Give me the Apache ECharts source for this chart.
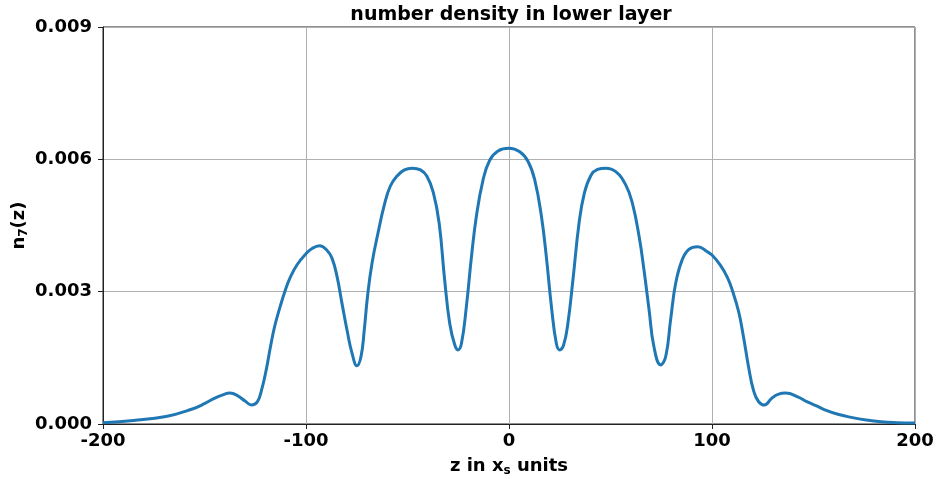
<!DOCTYPE html>
<html>
<head>
<meta charset="utf-8">
<title>number density in lower layer</title>
<script src="https://cdn.jsdelivr.net/npm/echarts@6/dist/echarts.min.js"></script>
<style>
  html, body { margin: 0; padding: 0; background: #fff; }
  #chart { width: 937px; height: 479px; }
</style>
</head>
<body>
<div id="chart"></div>
<script>
// Position along the layer, in x_s units
const zValues = [
  -200, -185, -169, -156, -150, -145.7, -141, -137.4, -134, -130, -126.8, -124, -122,
  -119.5, -117.5, -115.5, -113, -110, -107.7, -104.4, -100, -97, -93.3, -89.7, -87.2,
  -84.7, -82.3, -79.8, -77.3, -74.9, -72.9, -71.3, -69.7, -67.5, -64.2, -61.5, -58.5,
  -55, -51.5, -47.7, -43.6, -40.5, -37.3, -34.4, -31.7, -29.2, -26.7, -25.1, -23.4,
  -21, -18.5, -16.1, -12.8, -9.5, -5.4, 0,
  5.3, 9.4, 12.7, 16, 18.4, 20.9, 23.3, 24.9, 26.9, 29, 31.5, 34.5, 37.1, 40.4, 43.6,
  47.7, 52.6, 57.5, 60.8, 64.1, 66.5, 69, 71.4, 74.7, 77.2, 79.6, 82.1, 85.3, 88.6,
  93, 97.5, 100, 104.1, 107.5, 109.8, 113.1, 115.5, 118, 120.4, 122.9, 125.8, 129.4,
  132.5, 136.3, 142.5, 147, 151.5, 155.6, 162, 168.6, 176, 183.3, 191, 200
];

// Number density n_7(z) at each position
const nValues = [
  0.00003, 0.00008, 0.00017, 0.00034, 0.00046, 0.00057, 0.00066, 0.00070, 0.00065, 0.00052, 0.00043, 0.00050, 0.00075,
  0.00125, 0.00175, 0.00220, 0.00262, 0.00306, 0.00333, 0.00361, 0.00386, 0.00398, 0.00404, 0.00394, 0.00376,
  0.00334, 0.00274, 0.00213, 0.00160, 0.00132, 0.00153, 0.00213, 0.00289, 0.00364, 0.00440, 0.00495, 0.00539,
  0.00563, 0.00576, 0.00580, 0.00576, 0.00562, 0.00525, 0.00455, 0.00327, 0.00228, 0.00179, 0.00168, 0.00183,
  0.00266, 0.00379, 0.00470, 0.00553, 0.00598, 0.00619, 0.00625,
  0.00617, 0.00595, 0.00553, 0.00470, 0.00379, 0.00266, 0.00183, 0.00168, 0.00179, 0.00228, 0.00327, 0.00455, 0.00523, 0.00564, 0.00577,
  0.00580, 0.00572, 0.00542, 0.00500, 0.00425, 0.00349, 0.00259, 0.00175, 0.00134, 0.00153, 0.00236, 0.00319, 0.00372, 0.00396,
  0.00402, 0.00391, 0.00383, 0.00360, 0.00333, 0.00306, 0.00255, 0.00198, 0.00130, 0.00077, 0.00051, 0.00043, 0.00058,
  0.00067, 0.00070, 0.00061, 0.00050, 0.00041, 0.00032, 0.00022, 0.00015, 0.00009, 0.00005, 0.00003, 0.00002
];

// Axis tick positions
const xTicks = [-200, -100, 0, 100, 200];
const yTicks = [0, 0.003, 0.006, 0.009];

const points = zValues.map((z, i) => [z, nValues[i]]);

const font = 'DejaVu Sans';
const axisColor = '#222';
const gridColor = '#b0b0b0';

const chart = echarts.init(document.getElementById('chart'), null, { renderer: 'canvas' });

chart.setOption({
  animation: false,
  backgroundColor: '#fff',
  title: {
    text: 'number density in lower layer',
    left: 506,
    top: 1,
    textAlign: 'center',
    textStyle: { fontFamily: font, fontWeight: 'bold', fontSize: 19, color: '#000' }
  },
  grid: {
    left: 103, right: 22, top: 27, bottom: 55,
    outerBoundsMode: 'none',
    containLabel: false,
    show: true, borderColor: axisColor, borderWidth: 1, backgroundColor: 'transparent'
  },
  xAxis: {
    type: 'value',
    min: xTicks[0],
    max: xTicks[xTicks.length - 1],
    interval: xTicks[1] - xTicks[0],
    name: '{m|z in x}{s|s}{m| units}',
    nameLocation: 'middle',
    nameGap: 31,
    nameTextStyle: {
      rich: {
        m: { fontFamily: font, fontWeight: 'bold', fontSize: 18, color: '#000', lineHeight: 22 },
        s: { fontFamily: font, fontWeight: 'bold', fontSize: 12, color: '#000', lineHeight: 22, verticalAlign: 'bottom', padding: [6, 0, 0, 0] }
      }
    },
    axisLine: { show: true, onZero: false, lineStyle: { color: axisColor, width: 1 } },
    axisTick: { show: true, inside: false, length: 5, lineStyle: { color: axisColor } },
    axisLabel: {
      margin: 8,
      fontFamily: font, fontWeight: 'bold', fontSize: 18, color: '#000',
      formatter: v => String(v)
    },
    splitLine: { show: true, lineStyle: { color: gridColor, width: 1 } }
  },
  yAxis: {
    type: 'value',
    min: yTicks[0],
    max: yTicks[yTicks.length - 1],
    interval: yTicks[1] - yTicks[0],
    name: '{m|n}{s|7}{m|(z)}',
    nameLocation: 'middle',
    nameRotate: 90,
    nameGap: 73,
    nameMoveOverlap: false,
    nameTextStyle: {
      rich: {
        m: { fontFamily: font, fontWeight: 'bold', fontSize: 18, color: '#000', lineHeight: 22 },
        s: { fontFamily: font, fontWeight: 'bold', fontSize: 12, color: '#000', lineHeight: 22, verticalAlign: 'bottom', padding: [6, 0, 0, 0] }
      }
    },
    axisLine: { show: true, onZero: false, lineStyle: { color: axisColor, width: 1 } },
    axisTick: { show: true, inside: false, length: 5, lineStyle: { color: axisColor } },
    axisLabel: {
      margin: 11,
      fontFamily: font, fontWeight: 'bold', fontSize: 18, color: '#000',
      formatter: v => v.toFixed(3)
    },
    splitLine: { show: true, lineStyle: { color: gridColor, width: 1 } }
  },
  series: [{
    type: 'line',
    data: points,
    showSymbol: false,
    smooth: 0.45,
    lineStyle: { color: '#1f77b4', width: 3 },
    itemStyle: { color: '#1f77b4' },
    clip: true
  }]
});
</script>
</body>
</html>
